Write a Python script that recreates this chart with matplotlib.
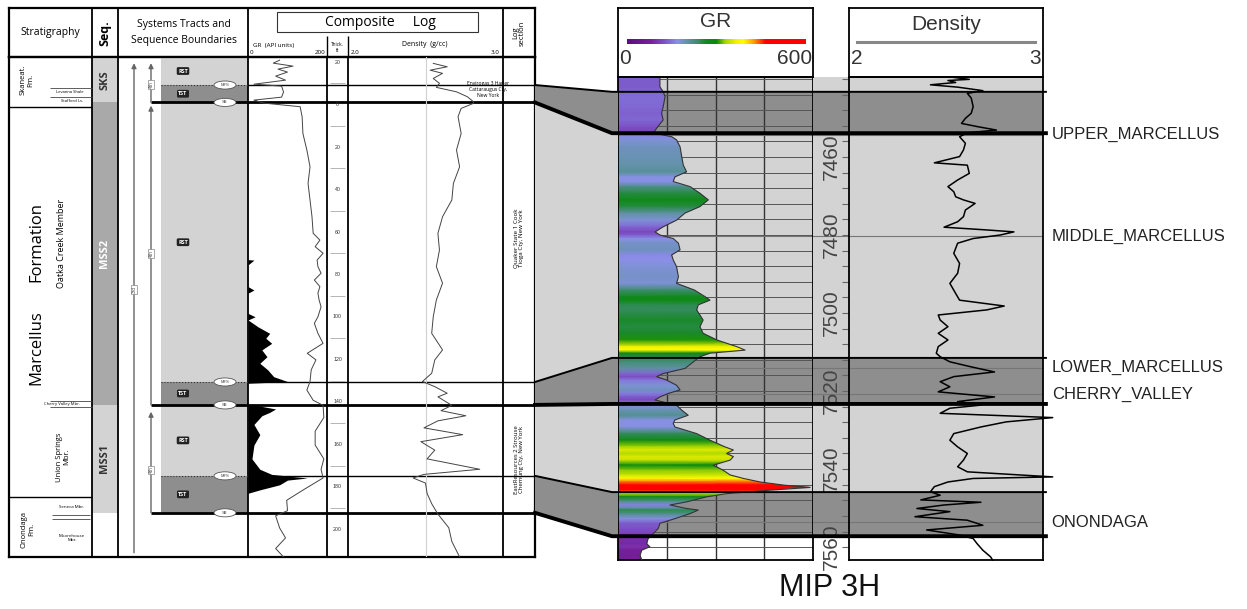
import numpy as np
import matplotlib
matplotlib.use("Agg")
import matplotlib.pyplot as plt
import matplotlib.transforms as mtransforms
from matplotlib.colors import LinearSegmentedColormap, Normalize
from matplotlib.patches import Rectangle, Ellipse, Polygon
from matplotlib.lines import Line2D

plt.rcParams['font.family'] = ['Liberation Sans', 'DejaVu Sans']
LFONT = ['Open Sans', 'DejaVu Sans']   # left (published) panel

# ---------------- right panel: MIP 3H well (depth ft) ----------------
r_top, r_base = 7439.5, 7563.3
gr_depth = [7439.4, 7442.0, 7443.3, 7444.5, 7447.1, 7448.8, 7450.5, 7452.6, 7453.9, 7454.8,
            7455.6, 7457.4, 7459.9, 7462.1, 7463.8, 7465.1, 7466.3, 7467.6, 7469.3, 7471.0,
            7472.7, 7474.4, 7476.2, 7477.9, 7479.2, 7480.0, 7480.9, 7482.1, 7483.8, 7485.1,
            7486.4, 7488.1, 7490.7, 7492.4, 7494.1, 7495.8, 7496.7, 7497.9, 7499.2, 7501.8,
            7503.5, 7505.2, 7506.9, 7508.6, 7509.5, 7510.3, 7511.2, 7512.5, 7514.2, 7515.5,
            7516.3, 7517.2, 7518.5, 7519.7, 7520.6, 7521.5, 7522.3, 7523.6, 7524.9, 7526.2,
            7527.4, 7528.3, 7529.2, 7530.9, 7532.6, 7534.3, 7535.1, 7536.0, 7536.8, 7537.7,
            7539.0, 7540.3, 7541.5, 7542.4, 7543.3, 7544.1, 7544.7, 7545.4, 7546.3, 7547.1,
            7548.4, 7549.2, 7550.1, 7550.5, 7551.4, 7552.7, 7553.9, 7555.2, 7556.5, 7557.8,
            7559.1, 7559.9, 7560.8, 7562.1, 7563.3]
gr_val = [129, 129, 139, 145, 139, 134, 139, 119, 109, 165,
          180, 191, 196, 201, 211, 175, 170, 222, 252, 278,
          252, 206, 180, 139, 114, 129, 170, 186, 191, 165,
          170, 180, 186, 180, 235, 268, 283, 247, 242, 262,
          252, 262, 304, 365, 391, 283, 252, 232, 206, 139,
          119, 150, 180, 191, 155, 129, 114, 180, 196, 216,
          175, 170, 175, 242, 283, 329, 355, 334, 355, 345,
          293, 324, 345, 386, 437, 509, 591, 468, 334, 273,
          211, 160, 211, 247, 222, 175, 129, 124, 109, 93,
          88, 98, 73, 68, 73]

den_depth = [7439.6, 7440.1, 7440.4, 7440.9, 7441.5, 7442.1, 7443.0, 7443.7, 7444.9, 7447.1,
             7448.8, 7450.1, 7451.4, 7452.2, 7453.1, 7453.8, 7454.8, 7456.5, 7458.2, 7459.9,
             7461.5, 7462.1, 7464.2, 7465.9, 7467.6, 7468.9, 7470.2, 7471.0, 7471.9, 7473.6,
             7475.3, 7476.6, 7478.0, 7478.7, 7479.2, 7480.0, 7480.9, 7482.1, 7484.7, 7487.3,
             7489.8, 7492.4, 7495.0, 7496.7, 7498.2, 7499.2, 7500.5, 7501.8, 7503.5, 7505.2,
             7506.9, 7508.6, 7510.3, 7511.2, 7512.5, 7513.8, 7515.1, 7516.3, 7517.6, 7518.9,
             7520.2, 7521.5, 7522.7, 7523.6, 7524.4, 7525.7, 7526.8, 7527.9, 7529.2, 7530.9,
             7532.6, 7534.3, 7536.0, 7537.7, 7539.4, 7540.7, 7542.0, 7542.4, 7543.3, 7544.5,
             7545.8, 7546.7, 7547.9, 7548.5, 7549.2, 7550.1, 7550.9, 7552.2, 7553.1, 7554.4,
             7555.6, 7556.9, 7557.8, 7559.1, 7560.8, 7562.5, 7563.3]
den_val = [2.54, 2.62, 2.51, 2.55, 2.42, 2.56, 2.69, 2.61, 2.63, 2.64,
           2.63, 2.60, 2.58, 2.66, 2.76, 2.61, 2.57, 2.60, 2.59, 2.57,
           2.44, 2.61, 2.62, 2.56, 2.51, 2.54, 2.55, 2.59, 2.65, 2.60,
           2.59, 2.56, 2.49, 2.71, 2.85, 2.78, 2.64, 2.56, 2.54, 2.57,
           2.56, 2.52, 2.55, 2.57, 2.80, 2.71, 2.46, 2.47, 2.51, 2.46,
           2.51, 2.46, 2.45, 2.47, 2.52, 2.63, 2.75, 2.54, 2.47, 2.52,
           2.46, 2.75, 2.56, 2.68, 2.52, 2.47, 3.05, 2.81, 2.68, 2.54,
           2.52, 2.56, 2.61, 2.59, 2.56, 2.61, 3.05, 2.64, 2.51, 2.44,
           2.42, 2.47, 2.37, 2.68, 2.49, 2.35, 2.52, 2.34, 2.61, 2.69,
           2.40, 2.57, 2.64, 2.66, 2.69, 2.73, 2.74]

depth_labels = [7460, 7480, 7500, 7520, 7540, 7560]
gr_grid = [150, 300, 450]
tops_names = ['UPPER_MARCELLUS', 'MIDDLE_MARCELLUS', 'LOWER_MARCELLUS', 'CHERRY_VALLEY', 'ONONDAGA']
tops_depth = [7454.3, 7480.3, 7514.0, 7520.8, 7553.6]

# GR colour scale (API, colour)
gr_nodes = [(0, '#5a0f80'), (80, '#7a1f9c'), (125, '#7b55c8'), (170, '#8a90e8'),
            (200, '#6392aa'), (235, '#3f8c70'), (265, '#13891f'), (300, '#0a8a0a'),
            (330, '#a8d800'), (365, '#f0f000'), (390, '#ffff00'), (425, '#ffa000'),
            (465, '#ff0000'), (600, '#ff0000')]

# ---------------- sequence surfaces (left ft, right ft) ----------------
surf_kind = ['MFS', 'SB', 'MFS', 'SB', 'MFS', 'SB']
surf_left = [-9.2, -1.0, 130.6, 141.4, 174.8, 192.2]
surf_right = [7443.3, 7453.9, 7511.5, 7523.3, 7545.9, 7557.2]

# ---------------- left panel: composite log (ft) ----------------
l_top, l_base = -22.4, 213.0
seq_names = ['SKS', 'MSS2', 'MSS1']
seq_tops = [l_top, -1.0, 141.4]
seq_bases = [-1.0, 141.4, 192.2]
tract_kind = ['RST', 'TST', 'RST', 'TST', 'RST', 'TST']
thick_labels = list(range(-20, 201, 20))

gr_l_depth = [-20.9, -19.5, -18.1, -16.7, -15.3, -13.4, -11.5, -9.6, -8.7, -5.9, -3.5, -2.1, -0.7,
              1.0, 5.7, 13.6, 21.4, 29.3, 37.1, 44.9, 52.8, 60.6, 63.8, 66.9, 70.0, 73.2, 76.3,
              79.4, 82.6, 85.7, 88.8, 92.0, 95.2, 99.9, 103.0, 107.7, 112.4, 117.1, 120.2,
              124.9, 130.4, 134.4, 139.2, 141.6, 147.3, 153.8, 160.3, 166.8, 171.7, 175.8,
              181.4, 186.3, 191.2, 193.6, 199.3, 204.0, 209.0, 213.0]
gr_l_val = [80, 64, 114, 76, 100, 70, 95, 15, 85, 90, 85, 15, 40,
            132, 137, 139, 149, 157, 152, 157, 162, 165, 182, 170, 190, 175, 177,
            185, 168, 182, 177, 180, 185, 177, 168, 177, 190, 150, 172,
            160, 157, 149, 165, 190, 192, 170, 170, 192, 185, 190,
            140, 98, 100, 70, 80, 95, 70, 90]

ovf_depth = [73.0, 73.2, 75.5, 85.7, 87.3, 88.8, 98.3, 99.9, 101.4, 104.6, 107.7, 110.0, 112.4,
             115.5, 118.7, 121.8, 124.9, 128.1, 130.4, 131.2, 141.4, 141.6, 143.3, 144.9,
             146.5, 150.6, 155.4, 160.3, 166.8, 171.7, 174.1, 175.8, 176.8, 179.0, 181.4, 183.0]
ovf_val = [0, 15, 0, 0, 15, 0, 0, 18, 0, 25, 55, 45, 60,
           35, 48, 30, 50, 65, 100, 0, 0, 20, 70, 55,
           35, 15, 30, 15, 10, 30, 60, 150, 100, 80, 30, 0]

den_l_depth = [-19.4, -17.8, -16.2, -14.7, -12.3, -10.0, -8.1, -6.0, -3.7, -1.3, -0.6, 1.8,
               5.7, 13.6, 21.4, 29.3, 37.1, 44.9, 52.8, 60.6, 68.5, 76.3, 84.1, 92.0, 99.9,
               107.7, 115.5, 120.2, 126.5, 130.4, 132.8, 135.9, 137.6, 141.6, 144.1, 146.5,
               148.9, 152.2, 155.4, 158.7, 162.7, 166.8, 171.7, 174.1, 175.8, 178.2, 183.0,
               187.9, 192.8, 199.2, 205.7, 213.0]
den_l_val = [2.55, 2.64, 2.53, 2.61, 2.55, 2.59, 2.57, 2.70, 2.77, 2.81, 2.81, 2.73,
             2.71, 2.73, 2.70, 2.72, 2.68, 2.67, 2.61, 2.58, 2.59, 2.57, 2.61, 2.57, 2.55,
             2.54, 2.61, 2.56, 2.54, 2.48, 2.56, 2.64, 2.58, 2.67, 2.60, 2.76,
             2.58, 2.49, 2.74, 2.47, 2.56, 2.51, 2.85, 2.49, 2.42, 2.50, 2.51,
             2.54, 2.58, 2.65, 2.67, 2.72]

LIGHT, DARK = '#d3d3d3', '#8e8e8e'

# ---------------- figure helpers ----------------
W, H = 1247, 609
fig = plt.figure(figsize=(W / 100, H / 100), dpi=100)


def px_axes(x0, y0, x1, y1, frame=True, lw=1.3):
    ax = fig.add_axes([x0 / W, 1 - y1 / H, (x1 - x0) / W, (y1 - y0) / H])
    ax.set_xticks([])
    ax.set_yticks([])
    ax.patch.set_alpha(0)
    for s in ax.spines.values():
        s.set_visible(frame)
        s.set_linewidth(lw)
    return ax


# ================= LEFT PANEL =================
col_x = [9, 92, 118, 248, 327, 348, 503, 535]

axLh = px_axes(9, 8, 535, 57, lw=1.6)
axLh.set_xlim(9, 535)
axLh.set_ylim(57, 8)
axLh.vlines([92, 118, 248, 503], 8, 57, color='k', lw=1.3)
axLh.vlines([327, 348], 36, 57, color='k', lw=1.0)
axLh.add_patch(Rectangle((277, 12), 201, 20, facecolor='white', edgecolor='#333', lw=0.8))
axLh.text(380, 22, 'Composite     Log', ha='center', va='center', fontsize=10, family=LFONT)
axLh.text(50, 33, 'Stratigraphy', ha='center', va='center', fontsize=7.5, family=LFONT)
axLh.text(105, 33, 'Seq.', ha='center', va='center', fontsize=9, rotation=90,
          fontweight='bold', family=LFONT)
axLh.text(184, 24, 'Systems Tracts and', ha='center', va='center', fontsize=7.5, family=LFONT)
axLh.text(184, 40, 'Sequence Boundaries', ha='center', va='center', fontsize=7.5, family=LFONT)
axLh.text(274, 45, 'GR  (API units)', ha='center', va='center', fontsize=4.5, family=LFONT)
axLh.text(250, 53, '0', ha='left', va='center', fontsize=4.5, family=LFONT)
axLh.text(325, 53, '200', ha='right', va='center', fontsize=4.5, family=LFONT)
axLh.text(337.5, 45, 'Thick.', ha='center', va='center', fontsize=3.5, family=LFONT)
axLh.text(337.5, 51, 'ft', ha='center', va='center', fontsize=3.5, family=LFONT)
axLh.text(425, 45, 'Density  (g/cc)', ha='center', va='center', fontsize=5, family=LFONT)
axLh.text(351, 53, '2.0', ha='left', va='center', fontsize=4.5, family=LFONT)
axLh.text(500, 53, '3.0', ha='right', va='center', fontsize=4.5, family=LFONT)
axLh.text(519, 33, 'Log\nsection', ha='center', va='center', fontsize=5.5, rotation=90,
          family=LFONT, linespacing=1.0)

axL = px_axes(9, 57, 535, 557, lw=1.6)
axL.set_xlim(9, 535)
axL.set_ylim(l_base, l_top)
axL.vlines(col_x[1:-1], l_top, l_base, color='k', lw=1.3)

# stratigraphy column
axL.hlines([1.2, 184.7], 9, 92, color='k', lw=1.0)
axL.hlines([-8.0, -3.5], 50, 92, color='#444', lw=0.6)
axL.hlines([139.6, 142.4], 50, 92, color='#444', lw=0.6)
axL.hlines([193.2, 195.1], 52, 90, color='#444', lw=0.6)
axL.text(27, -11.5, 'Skaneat.\nFm.', rotation=90, ha='center', va='center', fontsize=5.5,
         family=LFONT, linespacing=1.0)
axL.text(70, -5.8, 'Levanna Shale', ha='center', va='center', fontsize=3, family=LFONT)
axL.text(72, -1.8, 'Stafford Ls.', ha='center', va='center', fontsize=3, family=LFONT)
axL.text(36, 64.5, 'Formation', rotation=90, ha='center', va='center', fontsize=12, family=LFONT)
axL.text(36, 114.6, 'Marcellus', rotation=90, ha='center', va='center', fontsize=12, family=LFONT)
axL.text(62, 65.2, 'Oatka Creek Member', rotation=90, ha='center', va='center', fontsize=6.5,
         family=LFONT)
axL.text(62, 141.0, 'Cherry Valley Mbr.', ha='center', va='center', fontsize=3, family=LFONT)
axL.text(63, 165.9, 'Union Springs\nMbr.', rotation=90, ha='center', va='center', fontsize=5.5,
         family=LFONT, linespacing=1.0)
axL.text(28, 200.2, 'Onondaga\nFm.', rotation=90, ha='center', va='center', fontsize=5.5,
         family=LFONT, linespacing=1.0)
axL.text(72, 189.6, 'Seneca Mbr.', ha='center', va='center', fontsize=3.2, family=LFONT)
axL.text(72, 204.0, 'Moorehouse\nMbr.', ha='center', va='center', fontsize=3.2, family=LFONT,
         linespacing=1.0)

# sequence column
seq_face = [LIGHT, '#a9a9a9', LIGHT]
seq_txt = ['#333', 'white', '#333']
for name, t, b, fc, tc in zip(seq_names, seq_tops, seq_bases, seq_face, seq_txt):
    axL.add_patch(Rectangle((92, t), 26, b - t, facecolor=fc, edgecolor='none', zorder=0))
    axL.text(105, (t + b) / 2, name, rotation=90, ha='center', va='center', fontsize=8,
             fontweight='bold', color=tc, family=LFONT)

# systems tracts
tract_tops = [l_top] + surf_left[:-1]
for kind, t, b in zip(tract_kind, tract_tops, surf_left):
    axL.add_patch(Rectangle((161, t), 87, b - t, facecolor=LIGHT if kind == 'RST' else DARK,
                            edgecolor='none', zorder=0))
    axL.text(183, (t + b) / 2, kind, ha='center', va='center', fontsize=4, color='white',
             fontweight='bold', family=LFONT,
             bbox=dict(boxstyle='round,pad=0.25', fc='#222', ec='none'))

for kind, d in zip(surf_kind, surf_left):
    if kind == 'MFS':
        axL.hlines(d, 161, 248, color='#333', lw=0.8, linestyles=':')
        axL.hlines(d, 248, 535, color='k', lw=1.0)
    else:
        axL.hlines(d, 151, 535, color='k', lw=2.0)
    axL.add_patch(Ellipse((225, d), 22, 3.8, facecolor='white', edgecolor='#555', lw=0.6, zorder=3))
    axL.text(225, d, kind, ha='center', va='center', fontsize=3, color='#444', zorder=4)

# arrows (long 3rd-order, short 4th-order)
arrow_kw = dict(arrowstyle='-|>', color='#666', lw=1.0, mutation_scale=7, shrinkA=0, shrinkB=0)
axL.annotate('', xy=(134, -19.5), xytext=(134, 211.0), arrowprops=arrow_kw)
axL.text(134, 87, '3rd', rotation=90, ha='center', va='center', fontsize=3.5, color='#555',
         bbox=dict(boxstyle='square,pad=0.2', fc='white', ec='#888', lw=0.5))
short_tips = [-19.5, 0.5, 144.6]
short_lbl = [-9.5, 70.0, 172.0]
for tip, base, lab in zip(short_tips, [surf_left[1], surf_left[3], surf_left[5]], short_lbl):
    axL.annotate('', xy=(151, tip), xytext=(151, base), arrowprops=arrow_kw)
    axL.text(151, lab, '4th', rotation=90, ha='center', va='center', fontsize=3.5, color='#555',
             bbox=dict(boxstyle='square,pad=0.2', fc='white', ec='#888', lw=0.5))

# thickness column
for d in thick_labels:
    axL.text(337.5, d, str(abs(d)), ha='center', va='center', fontsize=3.8, color='#333')
axL.hlines([d + 10 for d in thick_labels[:-1]], 330, 345, color='#aaa', lw=0.6)

# log section column
axL.text(488, -7.0, 'Envirogas 3 Harler\nCattaraugus Cty,\nNew York', ha='center', va='center',
         fontsize=3.6, family=LFONT, linespacing=1.2)
axL.text(519, 63.0, 'Quaker State 1 Cook\nTioga Cty, New York', rotation=90, ha='center',
         va='center', fontsize=4.5, family=LFONT)
axL.text(519, 167.0, 'EastResources 2 Strouse\nChemung Cty, New York', rotation=90, ha='center',
         va='center', fontsize=4.3, family=LFONT)

# composite GR and density curves
axLgr = px_axes(248, 57, 327, 557, frame=False)
axLgr.fill_betweenx(ovf_depth, 0, ovf_val, color='k', lw=0)
axLgr.plot(gr_l_val, gr_l_depth, color='#444', lw=0.7)
axLgr.set_xlim(0, 200)
axLgr.set_ylim(l_base, l_top)

axLden = px_axes(348, 57, 503, 557, frame=False)
axLden.axvline(2.5, color='#d0d0d0', lw=0.8)
axLden.plot(den_l_val, den_l_depth, color='#444', lw=0.7)
axLden.set_xlim(2, 3)
axLden.set_ylim(l_base, l_top)

# ================= RIGHT PANEL =================
bands_top = [r_top] + surf_right[:-1]
bands_col = [LIGHT, DARK, LIGHT, DARK, LIGHT, DARK]

axG = px_axes(618, 77, 813, 560)
axD = px_axes(813, 77, 849, 560, frame=False)
axN = px_axes(849, 77, 1043, 560)
for ax in (axG, axD, axN):
    for t, b, c in zip(bands_top, surf_right, bands_col):
        ax.axhspan(t, b, color=c, lw=0, zorder=0)
    for d in tops_depth:
        ax.axhline(d, color='#777', lw=0.8, zorder=0.6)

# GR track
cmap = LinearSegmentedColormap.from_list('gr', [(v / 600, c) for v, c in gr_nodes])
norm = Normalize(0, 600)
gd = np.array(gr_depth)
gv = np.array(gr_val)
fill = axG.fill_betweenx(gd, 0, gv, facecolor='none', edgecolor='none')
mesh = axG.pcolormesh(np.column_stack([np.zeros_like(gd), np.full_like(gd, 600)]),
                      np.column_stack([gd, gd]), np.column_stack([gv, gv]),
                      cmap=cmap, norm=norm, shading='gouraud', zorder=2)
mesh.set_clip_path(fill.get_paths()[0], axG.transData)
axG.plot(gv, gd, color='#333', lw=0.8, zorder=3)
axG.set_xlim(0, 600)
axG.set_ylim(r_base, r_top)
axG.set_xticks(gr_grid)
axG.set_yticks(np.arange(7440, 7564, 4))
axG.tick_params(length=0, labelleft=False, labelbottom=False)
axG.set_axisbelow(True)
axG.grid(True, axis='x', color='#333', lw=1.0)
axG.grid(True, axis='y', color='#555', lw=0.7)

# depth track
axD.set_xlim(0, 1)
axD.set_ylim(r_base, r_top)
axD.set_yticks(np.arange(7440, 7564, 4))
axD.tick_params(axis='y', left=False, right=True, direction='in', length=5, color='#666',
                labelleft=False)
for d in depth_labels:
    axD.text(0.52, d, str(d), rotation=90, ha='center', va='center', fontsize=15, color='#444')

# density track
axN.plot(den_val, den_depth, color='k', lw=1.1, clip_on=False, zorder=3)
axN.set_xlim(2, 3)
axN.set_ylim(r_base, r_top)
lbl_tr = mtransforms.blended_transform_factory(axN.transAxes, axN.transData)
for name, d in zip(tops_names, tops_depth):
    axN.text(1.045, d, name, transform=lbl_tr, ha='left', va='center', fontsize=12, color='#222')

# headers
axGh = px_axes(618, 8, 813, 77)
axGh.imshow(np.linspace(0, 600, 256)[None, :], cmap=cmap, norm=norm, aspect='auto',
            extent=(28, 578, 0.52, 0.46))
axGh.set_xlim(0, 600)
axGh.set_ylim(1, 0)
axGh.text(300, 0.2, 'GR', ha='center', va='center', fontsize=15, color='#333')
axGh.text(4, 0.73, '0', ha='left', va='center', fontsize=15, color='#333')
axGh.text(597, 0.73, '600', ha='right', va='center', fontsize=15, color='#333')

axNh = px_axes(849, 8, 1043, 77)
axNh.set_xlim(2, 3)
axNh.set_ylim(1, 0)
axNh.plot([2.04, 2.96], [0.49, 0.49], color='#888', lw=2.2)
axNh.text(2.5, 0.24, 'Density', ha='center', va='center', fontsize=15, color='#333')
axNh.text(2.01, 0.73, '2', ha='left', va='center', fontsize=15, color='#333')
axNh.text(2.99, 0.73, '3', ha='right', va='center', fontsize=15, color='#333')

# ================= correlation between panels =================
to_fig = fig.transFigure.inverted()
trL = mtransforms.blended_transform_factory(axL.transAxes, axL.transData)
trG = mtransforms.blended_transform_factory(axG.transAxes, axG.transData)
trN = mtransforms.blended_transform_factory(axN.transAxes, axN.transData)


def fpt(tr, x, y):
    return to_fig.transform(tr.transform((x, y)))


bend = -6 / 195
for i in range(len(surf_left) - 1):
    pts = [fpt(trL, 1, surf_left[i]), fpt(trG, bend, surf_right[i]), fpt(trG, 0, surf_right[i]),
           fpt(trG, 0, surf_right[i + 1]), fpt(trG, bend, surf_right[i + 1]),
           fpt(trL, 1, surf_left[i + 1])]
    fig.add_artist(Polygon(pts, closed=True, transform=fig.transFigure,
                           facecolor=DARK if surf_kind[i] == 'MFS' else LIGHT, edgecolor='none',
                           zorder=0.5))

for kind, dl, dr in zip(surf_kind, surf_left, surf_right):
    p = np.array([fpt(trL, 1, dl), fpt(trG, bend, dr), fpt(trG, 0, dr), fpt(trN, 1.015, dr)])
    fig.add_artist(Line2D(p[:, 0], p[:, 1], transform=fig.transFigure, color='k',
                          lw=2.8 if kind == 'SB' else 1.4, zorder=5))

fig.text(830 / W, 1 - 588 / H, 'MIP 3H', ha='center', va='center', fontsize=22, color='#111')

fig.savefig('out.png', dpi=100)
